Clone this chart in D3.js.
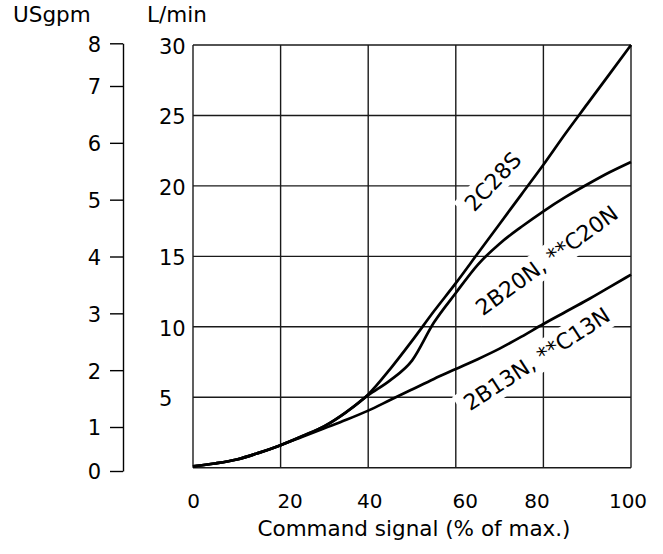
<!DOCTYPE html>
<html>
<head>
<meta charset="utf-8">
<script src="https://cdn.jsdelivr.net/npm/d3@7"></script>
<style>
body { margin: 0; background: #fff; }
text { font-family: "DejaVu Sans", sans-serif; fill: #000; }
</style>
</head>
<body>
<script>
// Data
const signal = [0, 5, 10, 15, 20, 25, 30, 35, 40, 45, 50, 55, 60, 65, 70, 75, 80, 85, 90, 95, 100];
const flow2C28S = [0.1, 0.3, 0.58, 1.05, 1.6, 2.25, 2.95, 3.95, 5.2, 7.0, 9.0, 11.1, 13.1, 15.2, 17.3, 19.4, 21.5, 23.7, 25.8, 27.9, 30];
const flow2B20N = [0.1, 0.3, 0.58, 1.05, 1.6, 2.25, 2.95, 3.95, 5.15, 6.2, 7.6, 10.3, 12.4, 14.4, 15.9, 17.1, 18.2, 19.2, 20.1, 20.95, 21.7];
const flow2B13N = [0.1, 0.3, 0.58, 1.05, 1.6, 2.2, 2.8, 3.4, 4.05, 4.8, 5.55, 6.3, 7.0, 7.7, 8.45, 9.3, 10.2, 11.05, 11.9, 12.8, 13.7];
const seriesNames = ["2C28S", "2B20N, **C20N", "2B13N, **C13N"];
const xTicks = [0, 20, 40, 60, 80, 100];
const lminTicks = [5, 10, 15, 20, 25, 30];
const usgpmTicks = [0, 1, 2, 3, 4, 5, 6, 7, 8];

// layout
const width = 663, height = 554,
    plot = { left: 193, right: 631, top: 45, bottom: 467.7 },
    svg = d3.select("body").append("svg").attr("width", width).attr("height", height),
    x = d3.scaleLinear().domain([0, 100]).range([plot.left, plot.right]),
    y = d3.scaleLinear().domain([0, 30]).range([plot.bottom, plot.top]),
    // the USgpm scale in the original is not quite uniform at the ends
    yUS = d3.scaleLinear().domain([0, 1, 7, 8]).range([471, 427, 86, 43.3]);

// label placement (in data units) and rotation
const labelLayout = [
    { v: 68.5, q: 20.3, angle: -47 },
    { v: 80.8, q: 14.7, angle: -36 },
    { v: 78.5, q: 7.7, angle: -33 }
];
// small shifts of the x tick labels as printed
const xNudge = { 0: 0, 20: 9, 40: 1, 60: 9, 80: -7, 100: -3.5 };

const gridColor = "#1a1a1a";

// grid + frame
const grid = svg.append("g");
grid.selectAll(".vg")
    .data(xTicks)
    .enter()
    .append("line")
    .attr("x1", d => x(d)).attr("x2", d => x(d))
    .attr("y1", plot.top).attr("y2", plot.bottom)
    .attr("stroke", gridColor).attr("stroke-width", 1.4);
grid.selectAll(".hg")
    .data([0].concat(lminTicks))
    .enter()
    .append("line")
    .attr("x1", plot.left).attr("x2", plot.right)
    .attr("y1", d => y(d)).attr("y2", d => y(d))
    .attr("stroke", gridColor).attr("stroke-width", 1.4);

// L/min axis (labels only)
const lminAxis = svg.append("g")
    .attr("transform", `translate(${plot.left},0)`)
    .call(d3.axisLeft(y).tickValues(lminTicks).tickSize(0));
lminAxis.select(".domain").remove();
lminAxis.selectAll("text")
    .attr("text-anchor", "start")
    .attr("x", -34)
    .attr("dy", "0.4em")
    .style("font-size", "21px")
    .style("font-family", "DejaVu Sans");

// USgpm axis
const usAxis = svg.append("g")
    .attr("transform", "translate(123,0)")
    .call(d3.axisLeft(yUS).tickValues(usgpmTicks).tickSize(13).tickSizeOuter(0).tickPadding(9));
usAxis.selectAll("path, line").attr("stroke", "#000").attr("stroke-width", 1.4);
usAxis.selectAll("text")
    .attr("dy", "0.38em")
    .style("font-size", "21px")
    .style("font-family", "DejaVu Sans");

// x axis labels
const xAxis = svg.append("g")
    .attr("transform", `translate(0,${plot.bottom})`)
    .call(d3.axisBottom(x).tickValues(xTicks).tickSize(0).tickPadding(26));
xAxis.select(".domain").remove();
xAxis.selectAll("text")
    .attr("dx", d => xNudge[d])
    .style("font-size", "20px")
    .style("font-family", "DejaVu Sans");

// titles
svg.append("text").attr("x", 13).attr("y", 22).style("font-size", "21.5px").text("USgpm");
svg.append("text").attr("x", 147).attr("y", 22).style("font-size", "21.5px").text("L/min");
svg.append("text")
    .attr("x", (plot.left + plot.right) / 2 + 2)
    .attr("y", 536)
    .attr("text-anchor", "middle")
    .style("font-size", "21.5px")
    .text("Command signal (% of max.)");

// white boxes behind the curve labels break the grid lines
const haloLayer = svg.append("g");
const curveLayer = svg.append("g");
const labelLayer = svg.append("g");

const placeLabel = (d, i) =>
    `translate(${x(labelLayout[i].v)},${y(labelLayout[i].q)}) rotate(${labelLayout[i].angle})`;

const labels = labelLayer.selectAll("text")
    .data(seriesNames)
    .enter()
    .append("text")
    .attr("transform", placeLabel)
    .attr("text-anchor", "middle")
    .attr("dominant-baseline", "central")
    .style("font-size", "22px")
    .text(d => d);

labels.each(function(d, i) {
    const bb = this.getBBox();
    haloLayer.append("rect")
        .attr("transform", placeLabel(d, i))
        .attr("x", bb.x - 7).attr("y", bb.y - 2)
        .attr("width", bb.width + 14).attr("height", bb.height + 4)
        .attr("fill", "#fff");
});

// curves
const line = d3.line()
    .x(d => x(d[0]))
    .y(d => y(d[1]))
    .curve(d3.curveMonotoneX);
[flow2C28S, flow2B20N, flow2B13N].forEach(vals => {
    curveLayer.append("path")
        .datum(signal.map((s, i) => [s, vals[i]]))
        .attr("fill", "none")
        .attr("stroke", "#000")
        .attr("stroke-width", 2.7)
        .attr("stroke-linejoin", "round")
        .attr("d", line);
});
</script>
</body>
</html>
